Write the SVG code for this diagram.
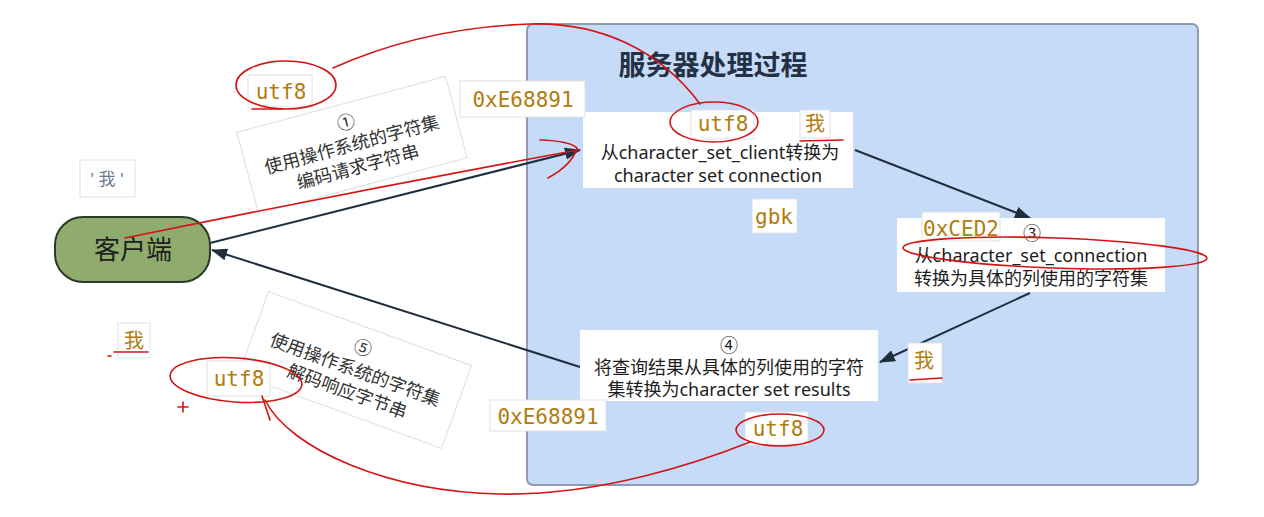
<svg xmlns="http://www.w3.org/2000/svg" width="1264" height="517" viewBox="0 0 1264 517">
<style>
.cjk{font-family:"Noto Sans","Noto Sans CJK SC",sans-serif;}
.node{fill:#ffffff;}
.ntext{font-family:"Noto Sans","Noto Sans CJK SC",sans-serif;font-size:18px;fill:#1e1e1e;text-anchor:middle;}
.lblbox{fill:#ffffff;stroke:#e2e2e2;stroke-width:1;}
.mono{font-family:"DejaVu Sans Mono","Liberation Mono",monospace;font-size:21px;fill:#b07d0e;text-anchor:middle;}
.wo{font-family:"Noto Sans CJK SC",sans-serif;font-size:20px;fill:#b07d0e;text-anchor:middle;}
.edge{stroke:#1f2d3d;stroke-width:2;fill:none;}
.elbl{fill:#ffffff;stroke:#dedede;stroke-width:1;}
.etext{font-family:"Noto Sans","Noto Sans CJK SC",sans-serif;font-size:18px;fill:#333;text-anchor:middle;}
.red{stroke:#d41414;stroke-width:1.6;fill:none;stroke-linecap:round;}
</style>
<defs>
<marker id="arrL" viewBox="0 0 16 12" refX="15" refY="6" markerWidth="16" markerHeight="12" markerUnits="userSpaceOnUse" orient="auto">
<path d="M0,0 L16,6 L0,12 Z" fill="#1f2d3d"/>
</marker>
</defs>
<rect width="1264" height="517" fill="#ffffff"/>

<g id="server">
<rect x="527" y="24" width="671" height="461" rx="6" fill="#c5dbf8" stroke="#8e9bb0" stroke-width="2"/>
<text x="713" y="75" class="cjk" font-size="27" font-weight="bold" fill="#243044" text-anchor="middle">服务器处理过程</text>
</g>

<g id="connectors">
<path class="edge" d="M210,243 L580,150" marker-end="url(#arrL)"/>
<path class="edge" d="M580,367 L212,250" marker-end="url(#arrL)"/>
<path class="edge" d="M855,150 L1030,218" marker-end="url(#arrL)"/>
<path class="edge" d="M1030,293 L880,362" marker-end="url(#arrL)"/>
</g>

<g id="edge-label-1" transform="translate(352,145) rotate(-15)">
<rect class="elbl" x="-108" y="-42" width="216" height="84"/>
<text class="etext" y="-17">①</text>
<text class="etext" y="6">使用操作系统的字符集</text>
<text class="etext" y="29">编码请求字符串</text>
</g>

<g id="edge-label-5" transform="translate(355,370) rotate(20)">
<rect class="elbl" x="-108" y="-44" width="216" height="88"/>
<text class="etext" y="-17">⑤</text>
<text class="etext" y="6">使用操作系统的字符集</text>
<text class="etext" y="29">解码响应字节串</text>
</g>

<g id="client">
<rect x="55" y="217" width="155" height="65" rx="28" fill="#8fac6e" stroke="#2d3a28" stroke-width="2"/>
<text x="133" y="259" class="cjk" font-size="26" fill="#1e1e1e" text-anchor="middle">客户端</text>
</g>

<g id="node2">
<rect class="node" x="583" y="112" width="270" height="76"/>
<text class="ntext" x="720" y="159">从character_set_client转换为</text>
<text class="ntext" x="718" y="182">character set connection</text>
</g>

<g id="node3">
<rect class="node" x="897" y="218" width="268" height="74"/>
<text class="ntext" x="1032" y="240">③</text>
<text class="ntext" x="1031" y="262">从character_set_connection</text>
<text class="ntext" x="1031" y="285">转换为具体的列使用的字符集</text>
</g>

<g id="node4">
<rect class="node" x="580" y="330" width="298" height="71"/>
<text class="ntext" x="729" y="352">④</text>
<text class="ntext" x="729" y="374">将查询结果从具体的列使用的字符</text>
<text class="ntext" x="729" y="396">集转换为character set results</text>
</g>

<g id="labels">
<rect class="lblbox" x="248" y="75" width="64" height="32"/>
<text class="mono" x="281" y="99">utf8</text>
<rect class="lblbox" x="460" y="81" width="125" height="36"/>
<text class="mono" x="523" y="107">0xE68891</text>
<rect class="lblbox" x="80" y="160" width="55" height="37"/>
<text x="107" y="185" class="cjk" font-size="17" fill="#6b7a90" text-anchor="middle">' 我 '</text>
<rect class="lblbox" x="691" y="110" width="63" height="29"/>
<text class="mono" x="723" y="131" font-size="20">utf8</text>
<rect class="lblbox" x="800" y="110" width="30" height="28"/>
<text class="wo" x="815" y="131">我</text>
<rect class="lblbox" x="752" y="199" width="45" height="34"/>
<text class="mono" x="774" y="224">gbk</text>
<rect class="lblbox" x="922" y="212" width="78" height="29"/>
<text class="mono" x="961" y="236">0xCED2</text>
<rect class="lblbox" x="908" y="343" width="34" height="40"/>
<text class="wo" x="924" y="368">我</text>
<rect class="lblbox" x="118" y="323" width="32" height="35"/>
<text class="wo" x="134" y="348">我</text>
<rect class="lblbox" x="207" y="361" width="63" height="35"/>
<text class="mono" x="239" y="386">utf8</text>
<rect class="lblbox" x="490" y="400" width="116" height="31"/>
<text class="mono" x="548" y="424">0xE68891</text>
<rect class="lblbox" x="745" y="412" width="63" height="33"/>
<text class="mono" x="778" y="436">utf8</text>
</g>

<g id="annotations">
<ellipse class="red" cx="286" cy="85" rx="50" ry="24"/>
<path class="red" d="M333,68 C400,38 470,26 530,24 C600,22 660,50 700,104"/>
<path class="red" d="M252,109 L282,109"/>
<ellipse class="red" cx="714" cy="122" rx="44" ry="20"/>
<path class="red" d="M800,141 L843,140"/>
<path class="red" d="M125,238 Q350,192 578,150"/>
<path class="red" d="M540,140 Q570,141 577,148 Q572,165 548,178"/>
<ellipse class="red" cx="1055" cy="253" rx="152" ry="15" transform="rotate(2 1055 253)"/>
<path class="red" d="M910,380 L942,378"/>
<path class="red" d="M114,352 L148,352"/>
<path class="red" d="M108,356 L111,356"/>
<ellipse class="red" cx="236" cy="380" rx="66" ry="22" transform="rotate(4 236 380)"/>
<ellipse class="red" cx="780" cy="430" rx="44" ry="16"/>
<path class="red" d="M262,396 L270,420"/>
<path class="red" d="M265,400 C290,450 390,492 500,494 C600,496 700,462 750,442"/>
<path class="red" d="M178,407 L188,407 M183,402 L183,412"/>
</g>
</svg>
